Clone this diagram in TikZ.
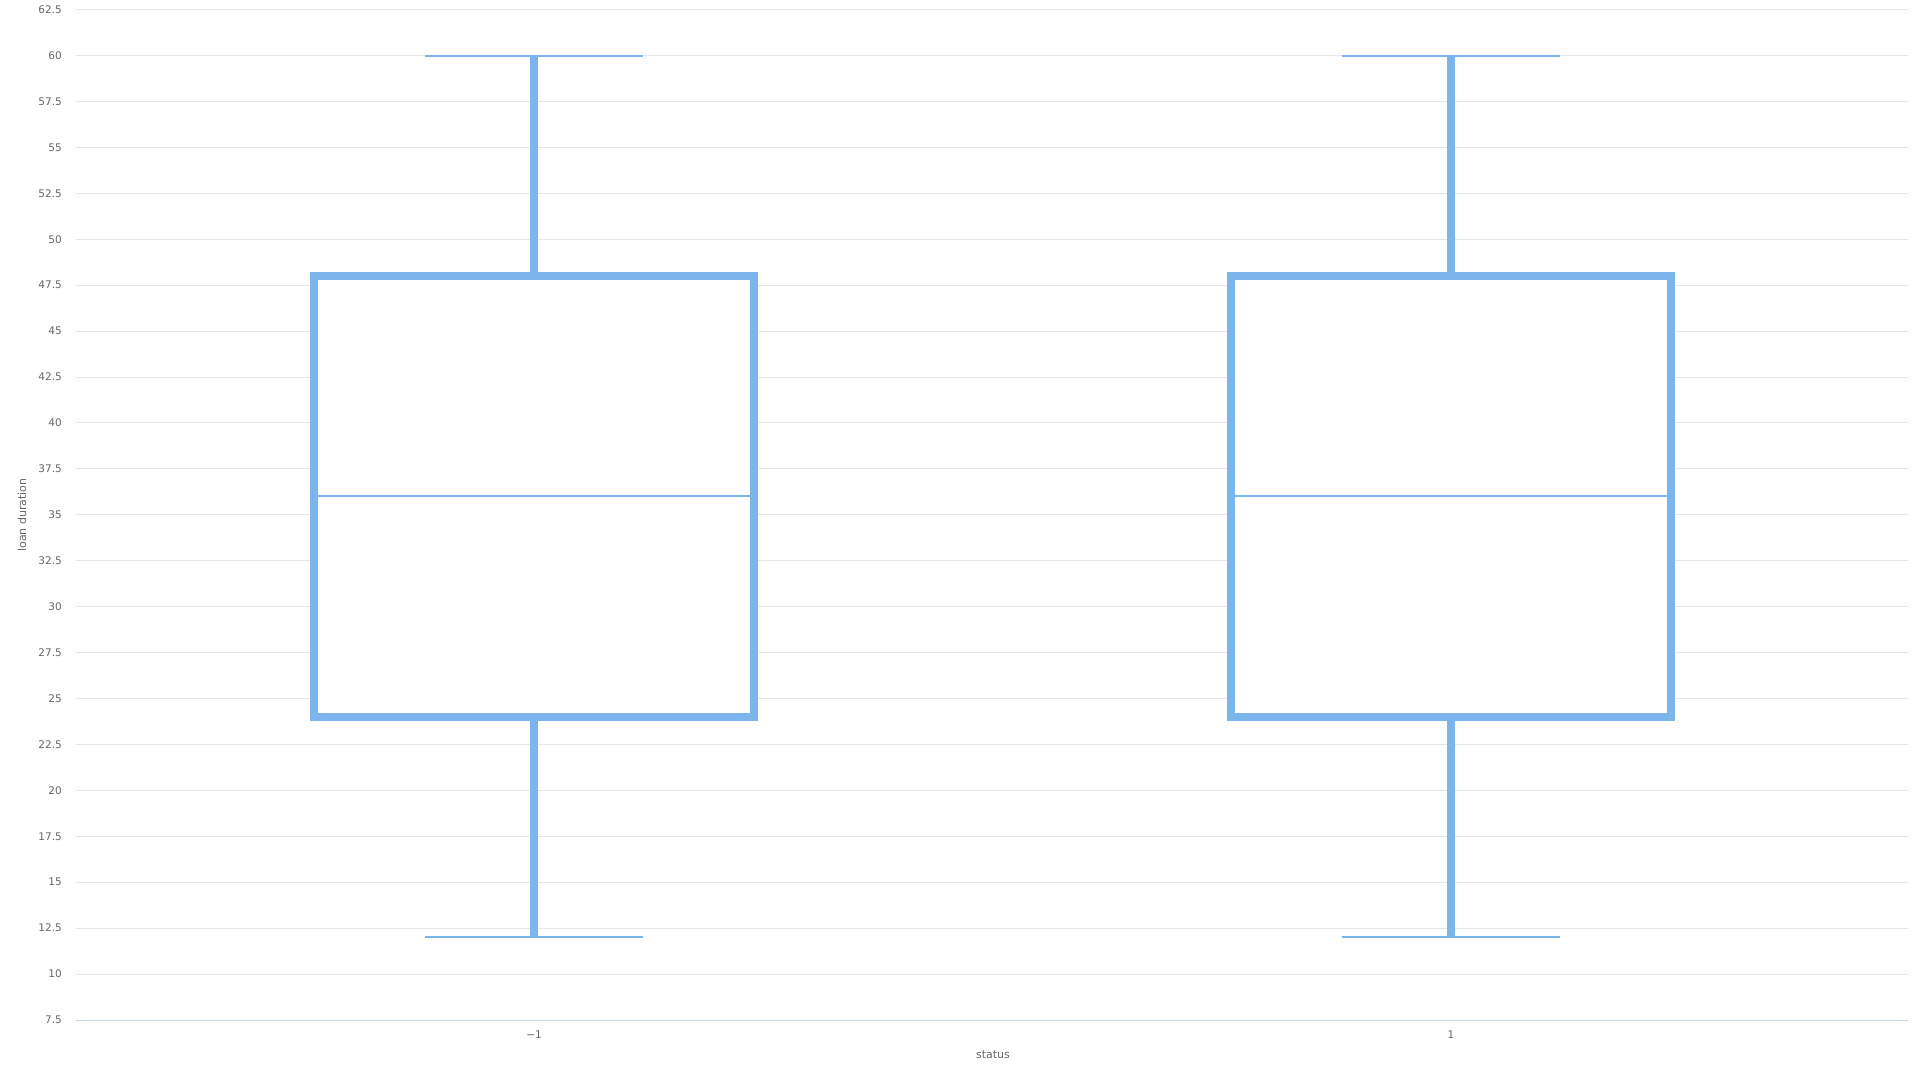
\documentclass[tikz,border=0pt]{standalone}
\usepackage{fontspec}
\setmainfont{DejaVu Sans}
\definecolor{boxblue}{HTML}{7CB5EC}
\definecolor{gridgray}{HTML}{E6E6E6}
\definecolor{axisline}{HTML}{CCD6EB}
\definecolor{labelgray}{HTML}{666666}
\begin{document}
\begin{tikzpicture}[x=1pt,y=-1pt,
  gridline/.style={draw=gridgray,line width=1pt},
  ticklabel/.style={font=\fontsize{10.5}{12}\selectfont,text=labelgray,inner sep=0pt},
  titlelabel/.style={font=\fontsize{11}{13}\selectfont,text=labelgray,inner sep=0pt},
  boxstyle/.style={draw=boxblue,fill=white,line width=7.5pt},
  whisker/.style={draw=boxblue,line width=7.5pt},
  capline/.style={draw=boxblue,line width=2pt},
  medline/.style={draw=boxblue,line width=2pt}]
\useasboundingbox[fill=white] (0,0) rectangle (1920,1080);
% grid lines and tick labels
\foreach \v [evaluate=\v as \yy using {9.6+(62.5-\v)*18.37}] in {62.5,60,57.5,55,52.5,50,47.5,45,42.5,40,37.5,35,32.5,30,27.5,25,22.5,20,17.5,15,12.5,10}{
  \draw[gridline] (76,\yy) -- (1908,\yy);
  \node[ticklabel,anchor=east] at (62,\yy) {\v};
}
\node[ticklabel,anchor=east] (t75) at (62,1020) {7.5};
\draw[draw=axisline,line width=1pt] (76,1020) -- (1908,1020);
% box 1
\draw[whisker] (534,55.5) -- (534,276);
\draw[whisker] (534,937.4) -- (534,716.9);
\draw[capline] (425,55.5) -- (643,55.5);
\draw[capline] (425,937.4) -- (643,937.4);
\draw[boxstyle] (314,276) rectangle (754,716.9);
\draw[medline] (318,496.4) -- (750,496.4);
% box 2
\draw[whisker] (1451,55.5) -- (1451,276);
\draw[whisker] (1451,937.4) -- (1451,716.9);
\draw[capline] (1342,55.5) -- (1560,55.5);
\draw[capline] (1342,937.4) -- (1560,937.4);
\draw[boxstyle] (1231,276) rectangle (1671,716.9);
\draw[medline] (1235,496.4) -- (1667,496.4);
% axis labels
\node[ticklabel] (xm1) at (534,1035) {−1};
\node[ticklabel] (xp1) at (1451,1035) {1};
\node[titlelabel] (xtitle) at (993,1055) {status};
\node[titlelabel,rotate=90] (ytitle) at (22,515) {loan duration};
\end{tikzpicture}
\end{document}
